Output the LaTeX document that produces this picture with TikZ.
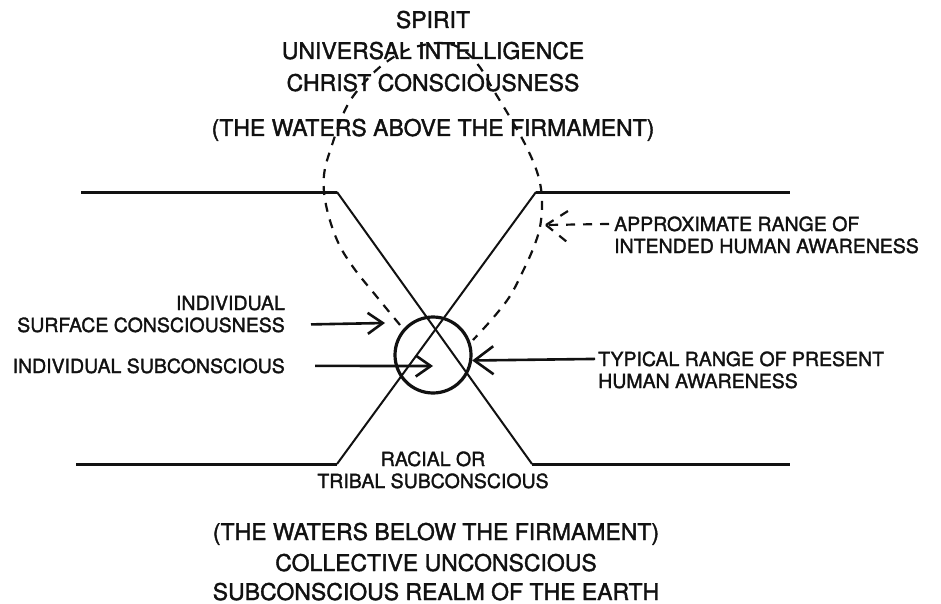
\documentclass[tikz,border=0pt]{standalone}
\usepackage{fontspec}
\setmainfont{TeX Gyre Heros}[AutoFakeBold=1.6]
\usepackage{tikz}
\usetikzlibrary{arrows.meta,positioning,calc}
\definecolor{ink}{HTML}{111111}

\begin{document}
\begin{tikzpicture}[x=1pt,y=-1pt,
    big/.style={font=\bfseries\fontsize{23}{28}\selectfont,inner sep=0pt,anchor=base,text=ink},
    lbl/.style={font=\bfseries\fontsize{19.5}{23}\selectfont,inner sep=0pt,text=ink},
    dashy/.style={ink,dash pattern=on 9pt off 8pt,line width=2.2pt},
    arr/.style={ink,line width=2.6pt,-{Straight Barb[length=15pt,width=21pt]}},
    arrbig/.style={ink,line width=2.6pt,-{Straight Barb[length=19pt,width=28pt]}}]
  \useasboundingbox (0,0) rectangle (941,604);
  % firmament lines
  \draw[ink,line width=3pt] (81,192) -- (337,192);
  \draw[ink,line width=3pt] (536,192) -- (790,192);
  \draw[ink,line width=3pt] (76,464) -- (337,464);
  \draw[ink,line width=3pt] (532,464) -- (790,464);
  \draw[ink,line width=2pt] (337,192) -- (532,464);
  \draw[ink,line width=2pt] (536,192) -- (337,464);
  % the self
  \node[circle,draw=ink,line width=3.2pt,minimum size=76pt,inner sep=0pt] (self) at (433,355) {};
  % range of intended awareness
  \draw[dashy] plot[smooth,tension=0.6] coordinates {(400,325) (377,297) (353,267) (337,240)
    (326,205) (324,175) (332,145) (346,108) (363,84) (385,63) (412,48) (443,43) (463,50)
    (479,66) (494,91) (511,119) (527,148) (538,175) (542,200) (540,227) (533,249)
    (523,271) (510,296) (493,318) (473,340)};
  % top
  \node[big] (spirit) at (433,28) {SPIRIT};
  \node[big] (univ) at (433,59) {UNIVERSAL INTELLIGENCE};
  \node[big] (christ) at (433,91) {CHRIST CONSCIOUSNESS};
  \node[big] (above) at (433,136) {(THE WATERS ABOVE THE FIRMAMENT)};
  % bottom
  \node[lbl,anchor=base] (racial) at (433,466) {RACIAL OR};
  \node[lbl,anchor=base] (tribal) at (433,488) {TRIBAL SUBCONSCIOUS};
  \node[big] (below) at (436,540) {(THE WATERS BELOW THE FIRMAMENT)};
  \node[big] (collective) at (436,571) {COLLECTIVE UNCONSCIOUS};
  \node[big] (realm) at (436,600) {SUBCONSCIOUS REALM OF THE EARTH};
  % left labels
  \node[lbl,anchor=base east] (indiv) at (285,310) {INDIVIDUAL};
  \node[lbl,anchor=base east] (surf) at (285,332) {SURFACE CONSCIOUSNESS};
  \node[lbl,anchor=base east] (subc) at (285,373) {INDIVIDUAL SUBCONSCIOUS};
  % right labels
  \node[lbl,anchor=base west] (approx) at (614,231) {APPROXIMATE RANGE OF};
  \node[lbl,anchor=base west] (intended) at (614,253) {INTENDED HUMAN AWARENESS};
  \node[lbl,anchor=base west] (typical) at (598,366) {TYPICAL RANGE OF PRESENT};
  \node[lbl,anchor=base west] (present) at (598,388) {HUMAN AWARENESS};
  % arrows
  \coordinate (surftip) at (385,323);
  \coordinate (subtip) at (433,366);
  \coordinate (apxtip) at (546,225);
  \draw[arr,shorten <=26pt] (surf.east) -- (surftip);
  \draw[arr,shorten <=30pt] (subc.east) -- (subtip);
  \draw[arrbig,shorten <=3pt] (typical.west) -- (self.-8);
  \draw[dashy,shorten <=5pt] (approx.west) -- (apxtip);
  \draw[dashy] (apxtip) -- ++(22,-14);
  \draw[dashy] (apxtip) -- ++(26,21);
\end{tikzpicture}
\end{document}
